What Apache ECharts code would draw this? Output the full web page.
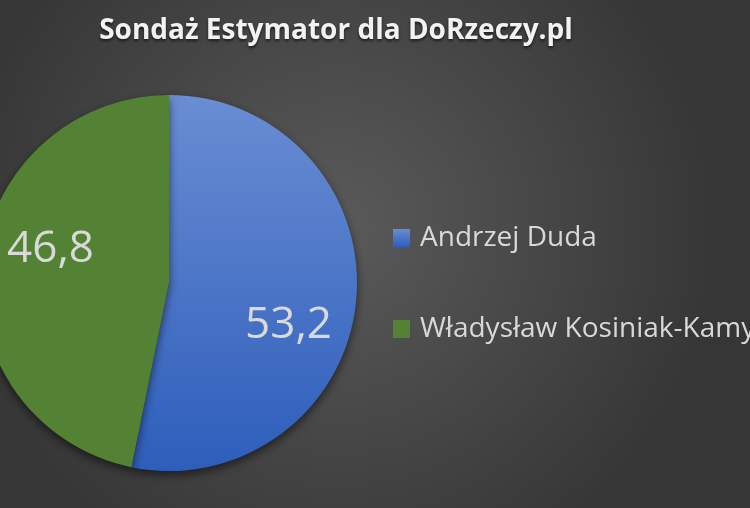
<!DOCTYPE html>
<html>
<head>
<meta charset="utf-8">
<script src="https://cdn.jsdelivr.net/npm/echarts@6/dist/echarts.min.js"></script>
<style>html,body{margin:0;padding:0;background:#444;}#c{width:750px;height:508px;}</style>
</head>
<body>
<div id="c"></div>
<script>
const titleText = 'Sondaż Estymator dla DoRzeczy.pl';
const categories = ['Andrzej Duda', 'Władysław Kosiniak-Kamysz'];
const values = [53.2, 46.8];

const font = '"Open Sans", "Noto Sans", sans-serif';
const colors = [
  {type:'linear', x:0, y:0, x2:0, y2:1, colorStops:[{offset:0,color:'#6a8dd3'},{offset:1,color:'#2d5ebb'}]},
  '#548235'
];
const labelShift = [[23, 33], [-22, -24]];

const chart = echarts.init(document.getElementById('c'));
chart.setOption({
  backgroundColor: {type:'radial', x:0.45, y:0.45, r:0.75, colorStops:[{offset:0,color:'#5a5a5a'},{offset:1,color:'#363636'}]},
  animation: false,
  title: {
    text: titleText, left: 331, textAlign: 'center', top: 12,
    textStyle: {color:'#f2f2f2', fontSize: 28, fontWeight: 'bold', fontFamily: font,
      textShadowColor:'rgba(0,0,0,0.6)', textShadowBlur:3, textShadowOffsetY:2}
  },
  legend: {
    orient: 'vertical', left: 393, top: 224, padding: 0, itemGap: 63,
    icon: 'rect', itemWidth: 17, itemHeight: 18,
    textStyle: {color:'#d9d9d9', fontSize: 28, fontFamily: font, padding: [0, 0, 0, 5]},
    data: categories
  },
  series: [{
    type: 'pie', center: [169, 283], radius: 188, startAngle: 90, clockwise: true,
    data: categories.map((n,i)=>({name:n, value:values[i], itemStyle:{color:colors[i]}})),
    itemStyle: {shadowColor:'rgba(0,0,0,0.55)', shadowBlur: 10, shadowOffsetY: 4, borderWidth: 0},
    label: {show:true, position:'inside', formatter: p => String(p.value).replace('.', ','),
      color:'#d9d9d9', fontSize: 44, fontFamily: font},
    labelLayout: p => ({dx: labelShift[p.dataIndex][0], dy: labelShift[p.dataIndex][1]}),
    emphasis: {disabled: true}
  }]
});
</script>
</body>
</html>
